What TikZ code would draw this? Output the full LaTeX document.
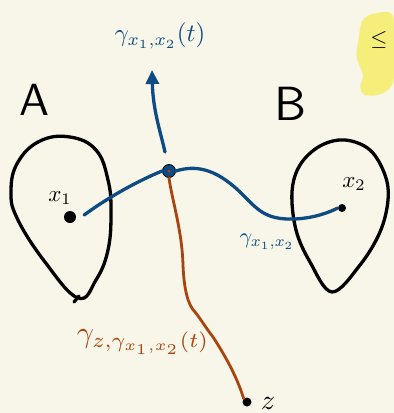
\documentclass[tikz,border=0pt]{standalone}
\usetikzlibrary{arrows.meta}
\definecolor{paper}{HTML}{F8F5E9}
\definecolor{pblue}{HTML}{0D4B82}
\definecolor{porange}{HTML}{A8450E}
\definecolor{hilite}{HTML}{F5EE7A}
\tikzset{
  blob/.style={draw=black,line width=3.3pt,line join=round,line cap=round},
  bluepath/.style={draw=pblue,line width=3.3pt,line cap=round,line join=round},
  orangepath/.style={draw=porange,line width=2.8pt,line cap=round,line join=round},
  dot/.style={circle,fill=black,inner sep=0pt,minimum size=8pt},
  lbl/.style={inner sep=0pt},
}
\begin{document}
\begin{tikzpicture}[x=1pt,y=-1pt]
\useasboundingbox (0,0) rectangle (394,413);
\fill[paper] (0,0) rectangle (394,413);
% yellow highlight
\fill[hilite,rounded corners=10pt] (362,16) -- (394,10) -- (394,88) -- (372,98) -- (357,92) -- (366,72) -- (355,62) -- cycle;
\node[lbl] (le) at (379,40) {\scalebox{2.2}{$\leq$}};
% blobs
\draw[blob] plot[smooth cycle,tension=0.7] coordinates {(78,298) (45,262) (17,218) (11,190) (18,162) (40,141) (70,137) (96,150) (108,180) (111,212) (108,250) (96,280)};
\draw[blob] (74,302) -- (79,296);
\draw[blob] plot[smooth cycle,tension=0.6] coordinates {(332,292) (310,262) (296,230) (292,192) (300,165) (320,146) (345,140) (370,150) (385,175) (388,200) (380,232) (360,265)};
% big letters
\node[lbl] (A) at (35,100) {\scalebox{4.5}{\sffamily A}};
\node[lbl] (B) at (291,104) {\scalebox{4.8}{\sffamily B}};
% points
\node[dot,minimum width=9pt,minimum height=12pt] (x1) at (70,217) {};
\node[dot,minimum size=8pt] (x2) at (342,208) {};
\node[dot,minimum size=9pt] (z) at (247,402) {};
\node[circle,fill=pblue,draw=black,line width=0.8pt,inner sep=0pt,minimum size=13pt] (m) at (169,171) {};
\node[lbl] (x1l) at (60,198) {\scalebox{2.3}{$x_1$}};
\node[lbl] (x2l) at (354,184) {\scalebox{2.3}{$x_2$}};
\node[lbl] (zl) at (268,403) {\scalebox{2.8}{$z$}};
% curves
\draw[bluepath] (x1.east) ++(8,-2) coordinate (s1)
  .. controls (110,196) and (140,180) .. (m.west);
\draw[bluepath] (m.east) .. controls (195,165) and (215,168) .. (240,192)
  .. controls (258,210) and (265,220) .. (295,219)
  .. controls (315,218) and (330,212) .. (x2.west);
\coordinate (tip) at (152,70);
\draw[bluepath,-{Triangle[length=14pt,width=13pt]}] (165,152) .. controls (160,130) and (153,110) .. (tip);
\draw[orangepath] (m.south) .. controls (172,200) and (182,230) .. (183,265)
  .. controls (184,290) and (188,305) .. (195,312)
  .. controls (200,318) and (206,328) .. (213,337)
  .. controls (228,360) and (238,380) .. (z.north west);
\fill[porange] (m.center) circle (1.5pt);
% labels
\node[lbl,text=pblue] (g1) at (160,36) {\scalebox{2.5}{$\gamma_{x_1,x_2}(t)$}};
\node[lbl,text=pblue] (g2) at (267,242) {\scalebox{2.2}{$\gamma_{x_1,x_2}$}};
\node[lbl,text=porange] (g3) at (143,342) {\scalebox{3.0}{$\gamma_{z,\gamma_{x_1,x_2}(t)}$}};
\end{tikzpicture}
\end{document}
